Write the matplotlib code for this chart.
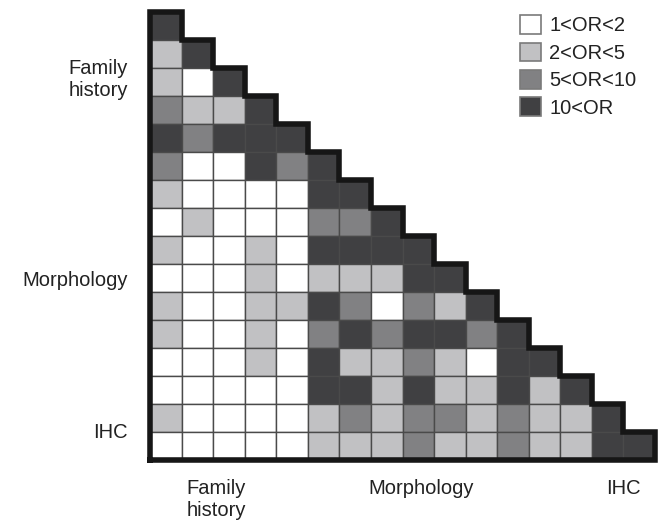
"""Matriz triangular de odds ratio entre variaveis (historia familiar,
morfologia e IHC), com classes de OR em tons de cinza."""

import matplotlib

matplotlib.use("Agg")
import matplotlib.pyplot as plt
from matplotlib.patches import Patch, Rectangle

plt.rcParams["font.family"] = ["Liberation Sans", "DejaVu Sans"]

# classes de OR: 1 = 1<OR<2, 2 = 2<OR<5, 3 = 5<OR<10, 4 = 10<OR
OR_CLASSES = ["1<OR<2", "2<OR<5", "5<OR<10", "10<OR"]
CLASS_COLORS = ["#ffffff", "#c1c1c3", "#818183", "#404042"]

# linhas da matriz triangular inferior (diagonal incluida)
or_levels = [
    [4],
    [2, 4],
    [2, 1, 4],
    [3, 2, 2, 4],
    [4, 3, 4, 4, 4],
    [3, 1, 1, 4, 3, 4],
    [2, 1, 1, 1, 1, 4, 4],
    [1, 2, 1, 1, 1, 3, 3, 4],
    [2, 1, 1, 2, 1, 4, 4, 4, 4],
    [1, 1, 1, 2, 1, 2, 2, 2, 4, 4],
    [2, 1, 1, 2, 2, 4, 3, 1, 3, 2, 4],
    [2, 1, 1, 2, 1, 3, 4, 3, 4, 4, 3, 4],
    [1, 1, 1, 2, 1, 4, 2, 2, 3, 2, 1, 4, 4],
    [1, 1, 1, 1, 1, 4, 4, 2, 4, 2, 2, 4, 2, 4],
    [2, 1, 1, 1, 1, 2, 3, 2, 3, 3, 2, 3, 2, 2, 4],
    [1, 1, 1, 1, 1, 2, 2, 2, 3, 2, 2, 3, 2, 2, 4, 4],
]

row_groups = ["Family\nhistory", "Morphology", "IHC"]
row_group_pos = [2.3, 9.5, 14.95]
col_groups = ["Family\nhistory", "Morphology", "IHC"]
col_group_pos = [2.1, 8.6, 15.0]


def staircase(n):
    """Contorno grosso: borda esquerda, inferior e degraus da diagonal."""
    xs, ys = [0, 0], [n, 0]
    for k in range(n):
        xs += [k + 1, k + 1]
        ys += [k, k + 1]
    xs.append(0)
    ys.append(n)
    return xs, ys


def main():
    n = len(or_levels)

    fig = plt.figure(figsize=(6.64, 5.24), dpi=100)
    ax = fig.add_axes([150 / 664, 1 - 460 / 524, 505 / 664, 448 / 524])

    for i, row in enumerate(or_levels):
        for j, level in enumerate(row):
            ax.add_patch(
                Rectangle(
                    (j, i), 1, 1,
                    facecolor=CLASS_COLORS[level - 1],
                    edgecolor="#4a4a4a",
                    linewidth=1.0,
                )
            )

    xs, ys = staircase(n)
    ax.plot(xs, ys, color="#161616", linewidth=4.0, solid_joinstyle="miter",
            solid_capstyle="projecting", clip_on=False)

    ax.set_xlim(0, n)
    ax.set_ylim(n, 0)
    for spine in ax.spines.values():
        spine.set_visible(False)

    ax.set_yticks(row_group_pos)
    ax.set_yticklabels(row_groups, fontsize=14.5, multialignment="right")
    ax.set_xticks(col_group_pos)
    ax.set_xticklabels(col_groups, fontsize=14.5, multialignment="left")
    ax.tick_params(axis="y", length=0, pad=16, colors="#222222")
    ax.tick_params(axis="x", length=0, pad=14, colors="#222222")

    handles = [
        Patch(facecolor=c, edgecolor="#7a7a7a", linewidth=1.2, label=lab)
        for c, lab in zip(CLASS_COLORS, OR_CLASSES)
    ]
    fig.legend(
        handles=handles,
        loc="upper left",
        bbox_to_anchor=(512 / 664, 1 - 7 / 524),
        frameon=False,
        fontsize=14.5,
        handlelength=1.05,
        handleheight=1.05,
        handletextpad=0.4,
        labelspacing=0.36,
        borderaxespad=0,
        labelcolor="#222222",
    )

    fig.savefig("out.png", dpi=100)
    plt.close(fig)


if __name__ == "__main__":
    main()
